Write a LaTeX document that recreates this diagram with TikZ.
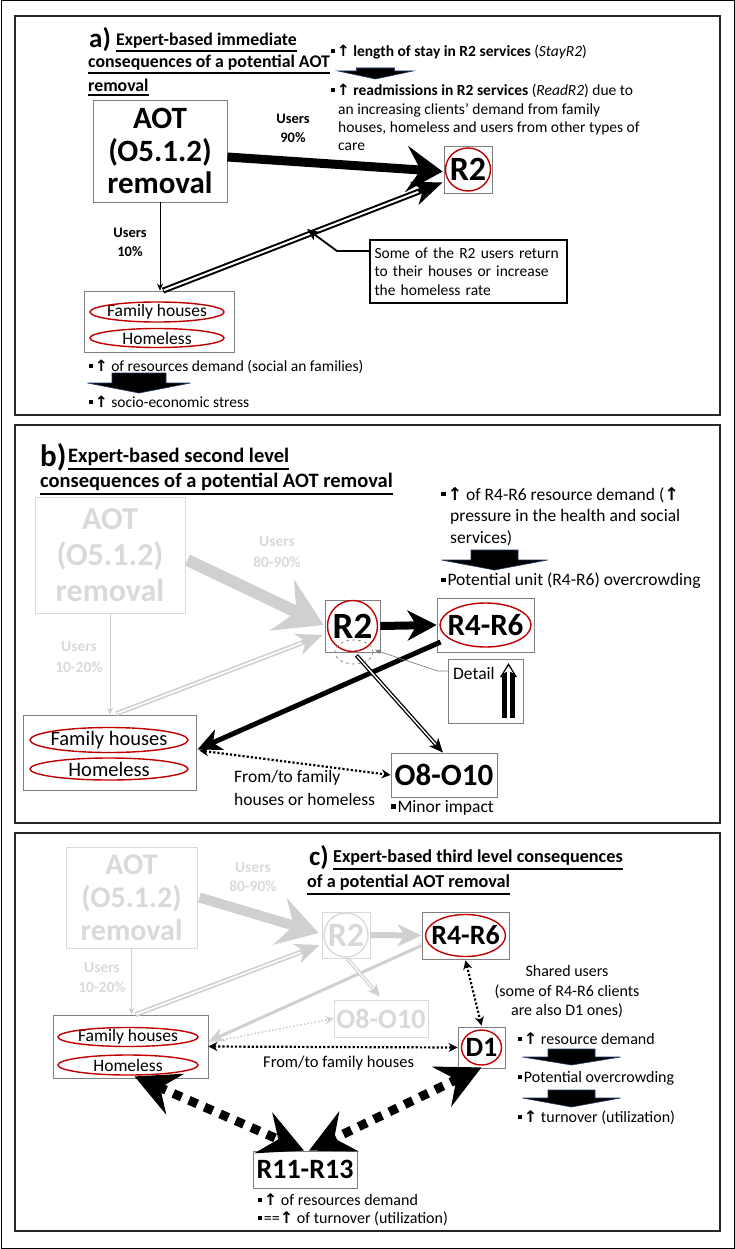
\documentclass[tikz,border=0pt]{standalone}
\usepackage{fontspec}
\setmainfont{Carlito}
\newfontfamily\symf{DejaVu Sans}
\usetikzlibrary{arrows.meta,calc}
\newcommand\fsz[2]{\fontsize{#1}{#2}\selectfont}
\newcommand\upa{{\symf\bfseries\char"2191}}
\newcommand\bul{\rule[0.22em]{0.26em}{0.26em}\hspace{0.1em}}
\definecolor{lg}{HTML}{D9D9D9}
\definecolor{lgl}{HTML}{D0D0D0}
\definecolor{redc}{HTML}{C00000}
\definecolor{bx}{HTML}{7F7F7F}
\definecolor{navy}{HTML}{1F3864}
\tikzset{
  box/.style={draw=bx, line width=0.8pt, inner sep=0pt},
  gbox/.style={draw=lg, line width=0.8pt, inner sep=0pt, text=lg},
  ring/.style={draw=redc, line width=1.4pt},
  gring/.style={draw=lg, line width=1.4pt},
  panel/.style={draw=black!85, line width=1.6pt},
  txt/.style={anchor=west, inner sep=0pt, align=left},
  ttl/.style={anchor=west, inner sep=0pt, font=\bfseries\fsz{#1}{#1}},
  blk/.style={fill=black, draw=navy, line width=0.6pt},
  pics/blockarr/.style args={#1/#2/#3/#4}{code={
    \filldraw[blk] (-#1,0)--(#1,0)--(#1,#3)--(#2,#3)--(0,#4)--(-#2,#3)--(-#1,#3)--cycle;}},
  bigdash/.style={line width=9pt, dash pattern=on 9pt off 8pt,
    {Stealth[length=44pt,width=44pt,inset=16pt]}-{Stealth[length=44pt,width=44pt,inset=16pt]}},
  dotarr/.style={line width=2.2pt, dotted,
    {Stealth[length=9pt,width=9pt]}-{Stealth[length=9pt,width=9pt]}},
}
\begin{document}
\begin{tikzpicture}[x=1pt,y=-1pt]
\useasboundingbox (0,0) rectangle (735,1249);
\draw[line width=1pt] (1,1) rectangle (734,1248);
\draw[panel] (15,16) rectangle (720,415);
\draw[panel] (15,425) rectangle (720,823);
\draw[panel] (15,833) rectangle (720,1231);

%%%%%%%%%%%%%%%% panel a
\node[ttl=27] (alab) at (89,40) {a)};
\node[ttl=17.8] (at1) at (116,41) {Expert-based immediate};
\node[ttl=17.8] (at2) at (88,63) {consequences of a potential AOT};
\node[ttl=17.8] (at3) at (88,85) {removal};
\foreach \n in {at1,at2,at3} \draw[line width=1.1pt] ($(\n.west)+(0,10)$) -- ($(\n.east)+(0,10)$);

\node[txt,font=\fsz{15.5}{18}] (a1) at (331,52) {\bul\upa\ \textbf{length of stay in R2 services} (\textit{StayR2})};
\pic at (375.5,68) {blockarr=19/37.5/3/11};
\node[txt,font=\fsz{15.5}{18}] (a2) at (331,91) {\bul\upa\ \textbf{readmissions in R2 services} (\textit{ReadR2}) due to};
\node[txt,font=\fsz{15.5}{18}] (a3) at (338,110) {an increasing clients’ demand from family};
\node[txt,font=\fsz{15.5}{18}] (a4) at (338,128) {houses, homeless and users from other types of};
\node[txt,font=\fsz{15.5}{18}] (a5) at (338,147) {care};

\node[box, minimum width=134, minimum height=102, align=center, font=\bfseries\fsz{31}{32.5}] (aot) at (160,151) {AOT\\(O5.1.2)\\removal};
\node[box, minimum width=48, minimum height=47, font=\bfseries\fsz{34}{34}] (r2a) at (468,169.5) {R2};
\draw[ring] (r2a.center) ellipse [x radius=22.5, y radius=21.5];

\node[font=\bfseries\fsz{14.5}{19}, align=center] (u90) at (293,128) {Users\\90\%};
\draw[line width=9pt, -{Stealth[length=36pt,width=46pt,inset=14pt]}] ($(aot.east)+(0,6)$) -- ($(r2a.west)+(-1,2)$);

\node[box, minimum width=150, minimum height=61] (fama) at (159,321.5) {};
\node[font=\fsz{17.5}{17}, inner sep=0pt] (fh1) at (157,312) {Family houses};
\node[font=\fsz{17.5}{17}, inner sep=0pt] (hl1) at (157,338) {Homeless};
\draw[ring] (fh1.center) ellipse [x radius=67, y radius=10];
\draw[ring] (hl1.center) ellipse [x radius=67, y radius=9.5];

\node[font=\bfseries\fsz{14.5}{19}, align=center] (u10) at (130,242) {Users\\10\%};
\draw[line width=0.8pt, -{Stealth[length=7pt,width=6pt]}] (aot.south) -- (aot.south |- fama.north);

\coordinate (dA) at ($(fama.north)+(4,0)$);
\coordinate (dB) at ($(r2a.south west)+(-1,-11)$);
\draw[line width=6pt, -{Stealth[length=30pt,width=24pt,inset=9pt]}] (dA) -- (dB);
\draw[white, line width=2pt, shorten >=26pt, shorten <=1pt] (dA) -- (dB);

\node[draw, line width=1.8pt, minimum width=197, minimum height=63, text width=188, align=left, inner xsep=4pt, font=\fsz{15.5}{18.5}] (call) at (468.5,271.5) {Some of the R2 users return\\to their houses or increase\\the homeless rate};
\coordinate (ptip) at (307,229);
\draw[line width=1.8pt, -{Stealth[length=12pt,width=10pt,inset=3pt]}] ($(call.north west)+(0,12)$) -- ++(-32,0) -- (ptip);

\node[txt,font=\fsz{15.5}{18}] (a6) at (89,367) {\bul\upa\ of resources demand (social an families)};
\pic at (139,373) {blockarr=27/51.5/10/20};
\node[txt,font=\fsz{15.5}{18}] (a7) at (89,402) {\bul\upa\ socio-economic stress};

%%%%%%%%%%%%%%%% panel b
\node[ttl=31] (blab) at (40,457) {b)};
\node[ttl=20.5] (bt1) at (68,457) {Expert-based second level};
\node[ttl=20.5] (bt2) at (40,482) {consequences of a potential AOT removal};
\foreach \n in {bt1,bt2} \draw[line width=1.2pt] ($(\n.west)+(0,12)$) -- ($(\n.east)+(0,12)$);

\node[txt,font=\fsz{17.5}{20}] (b1) at (441,495) {\bul\upa\ of R4-R6 resource demand (\upa};
\node[txt,font=\fsz{17.5}{20}] (b2) at (450,517) {pressure in the health and social};
\node[txt,font=\fsz{17.5}{20}] (b3) at (450,538) {services)};
\pic at (494.5,550) {blockarr=23.5/53/10/20};
\node[txt,font=\fsz{17.5}{20}] (b4) at (441,581) {\bul Potential unit (R4-R6) overcrowding};

\node[gbox, minimum width=150, minimum height=116, align=center, font=\bfseries\fsz{32}{36}] (aotb) at (110,555) {AOT\\(O5.1.2)\\removal};
\node[font=\bfseries\fsz{15.5}{21}, align=center, text=lg] (u8090b) at (277,552) {Users\\80-90\%};
\node[font=\bfseries\fsz{15.5}{21}, align=center, text=lg] (u1020b) at (79,657) {Users\\10-20\%};

\node[box, minimum width=55, minimum height=52, font=\bfseries\fsz{37}{37}] (r2b) at (352.5,626) {R2};
\draw[ring] (r2b.center) ellipse [x radius=25, y radius=25.5];
\node[box, minimum width=97, minimum height=54, font=\bfseries\fsz{31}{31}] (r46b) at (485.5,625) {R4-R6};
\draw[ring] (r46b.center) ellipse [x radius=45.5, y radius=22];

\node[box, minimum width=173, minimum height=75] (famb) at (109.5,752.5) {};
\node[font=\fsz{20.5}{20}, inner sep=0pt] (fh2) at (109,740) {Family houses};
\node[font=\fsz{20.5}{20}, inner sep=0pt] (hl2) at (109,769) {Homeless};
\draw[ring] (fh2.center) ellipse [x radius=79, y radius=12.5];
\draw[ring] (hl2.center) ellipse [x radius=79, y radius=11];

\node[box, minimum width=106, minimum height=44, font=\bfseries\fsz{31}{31}] (o8b) at (444,775) {O8-O10};

% gray arrows b
\draw[lgl, line width=12pt, -{Stealth[length=46pt,width=56pt,inset=16pt]}] ($(aotb.east)+(2,5)$) -- ($(r2b.west)+(-1,-1)$);
\draw[lgl, line width=0.8pt, -{Stealth[length=7pt,width=6pt]}] (aotb.south) -- (aotb.south |- famb.north);
\coordinate (gA) at ($(famb.north)+(7,-1)$);
\coordinate (gB) at ($(r2b.west)+(-2,9)$);
\draw[lgl, line width=5pt, -{Stealth[length=26pt,width=22pt,inset=8pt]}] (gA) -- (gB);
\draw[white, line width=1.6pt, shorten >=22pt, shorten <=1pt] (gA) -- (gB);

% black arrows b
\draw[line width=8pt, -{Stealth[length=29pt,width=30pt,inset=9pt]}] (r2b.east) -- (r46b.west);
\draw[line width=5pt, -{Stealth[length=24pt,width=22pt,inset=7pt]}] ($(r46b.west)+(4,17)$) -- ($(famb.east)+(1,-3)$);
\coordinate (tA) at ($(r2b.south)+(4,3)$);
\coordinate (tB) at ($(o8b.north)+(-1,0)$);
\draw[line width=4pt, -{Stealth[length=14pt,width=12pt,inset=4pt]}] (tA) -- (tB);
\draw[white, line width=1.4pt, shorten >=11pt, shorten <=1pt] (tA) -- (tB);
\draw[dotarr] ($(famb.east)+(3,-2)$) -- (o8b.west);

\node[txt,font=\fsz{17.5}{21}] (b5) at (234,778) {From/to family};
\node[txt,font=\fsz{17.5}{21}] (b6) at (234,799) {houses or homeless};
\node[txt,font=\fsz{17.5}{21}] (b7) at (391,808) {\bul Minor impact};

% detail
\draw[bx, dashed, line width=0.7pt] (354,652) ellipse [x radius=19, y radius=12];
\node[box, minimum width=75, minimum height=64] (detb) at (485.5,691) {};
\node[txt,font=\fsz{17.5}{17}] (dett) at (453,673) {Detail};
\coordinate (dpt) at (375,650);
\draw[bx, line width=0.7pt, -{Stealth[length=6pt,width=5pt]}] ($(detb.west)+(0,-20)$) -- ++(-10,0) -- (dpt);
\coordinate (vA) at (508.5,718);
\coordinate (vB) at (508.5,663);
\draw[line width=13pt, -{Triangle[length=14pt,width=16pt]}] (vA) -- (vB);
\draw[white, line width=3pt, -{Stealth[length=7pt,width=9pt]}] ($(vA)+(0,5)$) -- ($(vB)+(0,3)$);

%%%%%%%%%%%%%%%% panel c
\node[ttl=27] (clab) at (309,858) {c)};
\node[ttl=18.2] (ct1) at (333,858) {Expert-based third level consequences};
\node[ttl=18.2] (ct2) at (307,883) {of a potential AOT removal};
\foreach \n in {ct1,ct2} \draw[line width=1.1pt] ($(\n.west)+(0,11)$) -- ($(\n.east)+(0,11)$);

\node[gbox, minimum width=131, minimum height=101, align=center, font=\bfseries\fsz{30}{33}] (aotc) at (131.5,897.5) {AOT\\(O5.1.2)\\removal};
\node[font=\bfseries\fsz{15.5}{19}, align=center, text=lg] (u8090c) at (253,877) {Users\\80-90\%};
\node[font=\bfseries\fsz{15.5}{20}, align=center, text=lg] (u1020c) at (102,978) {Users\\10-20\%};

\node[gbox, minimum width=48, minimum height=46, font=\bfseries\fsz{34}{34}] (r2c) at (346,935) {R2};
\draw[gring] (r2c.center) ellipse [x radius=22, y radius=22];
\node[box, minimum width=87, minimum height=47, font=\bfseries\fsz{28}{28}] (r46c) at (465.5,935.5) {R4-R6};
\draw[ring] (r46c.center) ellipse [x radius=40, y radius=21];

\node[box, minimum width=155, minimum height=63] (famc) at (130.5,1046.5) {};
\node[font=\fsz{17.5}{17.5}, inner sep=0pt] (fh3) at (128,1037) {Family houses};
\node[font=\fsz{17.5}{17.5}, inner sep=0pt] (hl3) at (128,1065) {Homeless};
\draw[ring] (fh3.center) ellipse [x radius=70, y radius=9.5];
\draw[ring] (hl3.center) ellipse [x radius=70, y radius=10];

\node[gbox, minimum width=94, minimum height=37, font=\bfseries\fsz{28}{27}] (o8c) at (381,1018.5) {O8-O10};

% gray arrows c
\draw[lgl, line width=10pt, -{Stealth[length=40pt,width=48pt,inset=14pt]}] ($(aotc.east)+(2,0)$) -- ($(r2c.west)+(-3,-2)$);
\draw[lgl, line width=6pt, -{Stealth[length=24pt,width=22pt,inset=7pt]}] (r2c.east) -- (r46c.west);
\draw[lgl, line width=0.8pt, -{Stealth[length=7pt,width=6pt]}] (aotc.south) -- (aotc.south |- famc.north);
\coordinate (hA) at ($(famc.north)+(5,0)$);
\coordinate (hB) at ($(r2c.west)+(-2,10)$);
\draw[lgl, line width=5pt, -{Stealth[length=24pt,width=20pt,inset=7pt]}] (hA) -- (hB);
\draw[white, line width=1.6pt, shorten >=20pt, shorten <=1pt] (hA) -- (hB);
\draw[lgl, line width=3pt, -{Stealth[length=16pt,width=14pt,inset=5pt]}] ($(r46c.west)+(0,10)$) -- ($(famc.east)+(0,-5)$);
\coordinate (kA) at ($(r2c.south)+(1,0)$);
\coordinate (kB) at ($(o8c.north)+(-1,-3)$);
\draw[lgl, line width=3.5pt, -{Stealth[length=12pt,width=11pt,inset=3pt]}] (kA) -- (kB);
\draw[white, line width=1.2pt, shorten >=10pt, shorten <=1pt] (kA) -- (kB);
\draw[lgl, line width=1.6pt, dotted, -{Stealth[length=8pt,width=8pt]}] ($(famc.east)+(0,-4)$) -- (o8c.west);

% D1 and R11
\node[box, minimum width=47, minimum height=41, font=\bfseries\fsz{28}{28}] (d1) at (481.5,1047.5) {D1};
\draw[ring] (d1.center) ellipse [x radius=20, y radius=17.5];
\node[box, minimum width=104, minimum height=37, font=\bfseries\fsz{28}{28}] (r11) at (305,1169.5) {R11-R13};

\draw[dotarr] (famc.east) -- (d1.west);
\draw[dotarr] ($(r46c.south)+(0,1)$) -- ($(d1.north)+(0,-1)$);
\node[txt,font=\fsz{16.5}{20}] (c1) at (263,1063) {From/to family houses};
\node[font=\fsz{16}{19.5}, align=center] (c2) at (567,992) {Shared users\\(some of R4-R6 clients\\are also D1 ones)};

\draw[bigdash] ($(famc.south)+(4,-2)$) -- ($(r11.north)+(-1,0)$);
\draw[bigdash] ($(d1.south)+(0,-1)$) -- ($(r11.north)+(4,0)$);

\node[txt,font=\fsz{16}{19}] (c3) at (518,1039) {\bul\upa\ resource demand};
\pic at (571.5,1049) {blockarr=23.5/49/8/16};
\node[txt,font=\fsz{16}{19}] (c4) at (518,1078) {\bul Potential overcrowding};
\pic at (571.5,1090) {blockarr=23.5/49/8/17};
\node[txt,font=\fsz{16}{19}] (c5) at (518,1118) {\bul\upa\ turnover (utilization)};
\node[txt,font=\fsz{16}{19}] (c6) at (258,1200) {\bul\upa\ of resources demand};
\node[txt,font=\fsz{16}{19}] (c7) at (258,1219) {\bul==\upa\ of turnover (utilization)};
\end{tikzpicture}
\end{document}
